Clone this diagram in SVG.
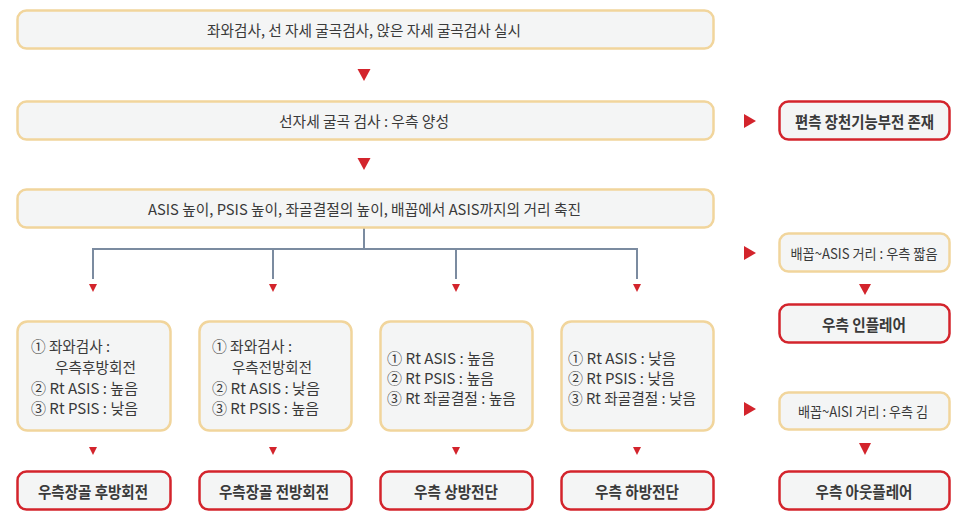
<svg xmlns="http://www.w3.org/2000/svg" width="966" height="527" viewBox="0 0 966 527">
<style>
  text { font-family: "Noto Sans CJK KR", "Noto Sans", sans-serif; fill: #3a3a3a; }
  .box { fill: #f4f5f5; stroke: #f1d59c; stroke-width: 2.5; }
  .rbox { fill: #f4f5f5; stroke: #d3242c; stroke-width: 2.5; }
  .c { text-anchor: middle; dominant-baseline: central; }
  .l { text-anchor: start; dominant-baseline: central; font-size: 15px; }
  .t14 { font-size: 15px; }
  .t13 { font-size: 14px; }
  .b { font-size: 16px; font-weight: bold; }
  .conn { fill: none; stroke: #7b8ba0; stroke-width: 2; }
  .tri { fill: #d3242c; }
</style>
<rect width="966" height="527" fill="#ffffff"/>

<g id="connectors">
  <path class="conn" d="M364 228 V249 M93 249 H637 M93 248 V279 M273 249 V279 M456 249 V279 M637 248 V279"/>
  <polygon class="tri" points="357.5,69 370.5,69 364,81"/>
  <polygon class="tri" points="357.5,158 370.5,158 364,170"/>
  <polygon class="tri" points="744,114 756,121 744,128"/>
  <polygon class="tri" points="744,246 756,253 744,260"/>
  <polygon class="tri" points="744,402 756,409 744,416"/>
  <polygon class="tri" points="859,284 871,284 865,295"/>
  <polygon class="tri" points="859,443 871,443 865,455"/>
  <polygon class="tri" points="89,284 97,284 93,292"/>
  <polygon class="tri" points="269,284 277,284 273,292"/>
  <polygon class="tri" points="452,284 460,284 456,292"/>
  <polygon class="tri" points="633,284 641,284 637,292"/>
  <polygon class="tri" points="89,447 97,447 93,455"/>
  <polygon class="tri" points="269,447 277,447 273,455"/>
  <polygon class="tri" points="452,447 460,447 456,455"/>
  <polygon class="tri" points="633,447 641,447 637,455"/>
</g>

<g id="n_top">
  <rect class="box" x="17.5" y="10.5" width="696" height="38" rx="9"/>
  <text class="c t14" x="364" y="29.5" textLength="314" lengthAdjust="spacingAndGlyphs">좌와검사, 선 자세 굴곡검사, 앉은 자세 굴곡검사 실시</text>
</g>
<g id="n_stand">
  <rect class="box" x="17.5" y="101.5" width="696" height="38" rx="9"/>
  <text class="c t14" x="364" y="120.5" textLength="170" lengthAdjust="spacingAndGlyphs">선자세 굴곡 검사 : 우측 양성</text>
</g>
<g id="n_sij">
  <rect class="rbox" x="779.5" y="101.5" width="170" height="38" rx="9"/>
  <text class="c b" x="864.5" y="120.5" textLength="139" lengthAdjust="spacingAndGlyphs">편측 장천기능부전 존재</text>
</g>
<g id="n_palp">
  <rect class="box" x="17.5" y="189.5" width="696" height="38" rx="9"/>
  <text class="c t14" x="364.5" y="208.5" textLength="433" lengthAdjust="spacingAndGlyphs">ASIS 높이, PSIS 높이, 좌골결절의 높이, 배꼽에서 ASIS까지의 거리 축진</text>
</g>
<g id="n_short">
  <rect class="box" x="779.5" y="233.5" width="170" height="38" rx="9"/>
  <text class="c t13" x="864" y="252.5" textLength="147" lengthAdjust="spacingAndGlyphs">배꼽~ASIS 거리 : 우측 짧음</text>
</g>
<g id="n_inflare">
  <rect class="rbox" x="779.5" y="304.5" width="170" height="38" rx="9"/>
  <text class="c b" x="864" y="323.5" textLength="84" lengthAdjust="spacingAndGlyphs">우측 인플레어</text>
</g>
<g id="n_long">
  <rect class="box" x="779.5" y="392.5" width="170" height="37" rx="9"/>
  <text class="c t13" x="863" y="411" textLength="130" lengthAdjust="spacingAndGlyphs">배꼽~AISI 거리 : 우측 김</text>
</g>
<g id="n_outflare">
  <rect class="rbox" x="779.5" y="471.5" width="170" height="38" rx="9"/>
  <text class="c b" x="864" y="490.5" textLength="97" lengthAdjust="spacingAndGlyphs">우측 아웃플레어</text>
</g>

<g id="n_m1">
  <rect class="box" x="17.5" y="321.5" width="153" height="109" rx="10"/>
  <text class="l" x="31" y="345" textLength="79" lengthAdjust="spacingAndGlyphs">① 좌와검사 :</text>
  <text class="l" x="55" y="366" textLength="81" lengthAdjust="spacingAndGlyphs">우측후방회전</text>
  <text class="l" x="31" y="387" textLength="107" lengthAdjust="spacingAndGlyphs">② Rt ASIS : 높음</text>
  <text class="l" x="31" y="407" textLength="107" lengthAdjust="spacingAndGlyphs">③ Rt PSIS : 낮음</text>
</g>
<g id="n_m2">
  <rect class="box" x="199.5" y="321.5" width="152" height="109" rx="10"/>
  <text class="l" x="212" y="345" textLength="80" lengthAdjust="spacingAndGlyphs">① 좌와검사 :</text>
  <text class="l" x="232" y="366" textLength="80" lengthAdjust="spacingAndGlyphs">우측전방회전</text>
  <text class="l" x="212" y="387" textLength="108" lengthAdjust="spacingAndGlyphs">② Rt ASIS : 낮음</text>
  <text class="l" x="212" y="407" textLength="107" lengthAdjust="spacingAndGlyphs">③ Rt PSIS : 높음</text>
</g>
<g id="n_m3">
  <rect class="box" x="380.5" y="321.5" width="152" height="109" rx="10"/>
  <text class="l" x="387" y="357" textLength="108" lengthAdjust="spacingAndGlyphs">① Rt ASIS : 높음</text>
  <text class="l" x="387" y="377" textLength="107" lengthAdjust="spacingAndGlyphs">② Rt PSIS : 높음</text>
  <text class="l" x="387" y="397" textLength="129" lengthAdjust="spacingAndGlyphs">③ Rt 좌골결절 : 높음</text>
</g>
<g id="n_m4">
  <rect class="box" x="561.5" y="321.5" width="152" height="109" rx="10"/>
  <text class="l" x="568" y="357" textLength="108" lengthAdjust="spacingAndGlyphs">① Rt ASIS : 낮음</text>
  <text class="l" x="568" y="377" textLength="107" lengthAdjust="spacingAndGlyphs">② Rt PSIS : 낮음</text>
  <text class="l" x="568" y="397" textLength="128" lengthAdjust="spacingAndGlyphs">③ Rt 좌골결절 : 낮음</text>
</g>

<g id="n_r1">
  <rect class="rbox" x="17.5" y="471.5" width="153" height="38" rx="9"/>
  <text class="c b" x="93" y="490.5" textLength="110" lengthAdjust="spacingAndGlyphs">우측장골 후방회전</text>
</g>
<g id="n_r2">
  <rect class="rbox" x="199.5" y="471.5" width="152" height="38" rx="9"/>
  <text class="c b" x="274" y="490.5" textLength="110" lengthAdjust="spacingAndGlyphs">우측장골 전방회전</text>
</g>
<g id="n_r3">
  <rect class="rbox" x="380.5" y="471.5" width="152" height="38" rx="9"/>
  <text class="c b" x="456" y="490.5" textLength="84" lengthAdjust="spacingAndGlyphs">우측 상방전단</text>
</g>
<g id="n_r4">
  <rect class="rbox" x="561.5" y="471.5" width="152" height="38" rx="9"/>
  <text class="c b" x="637" y="490.5" textLength="84" lengthAdjust="spacingAndGlyphs">우측 하방전단</text>
</g>
</svg>
